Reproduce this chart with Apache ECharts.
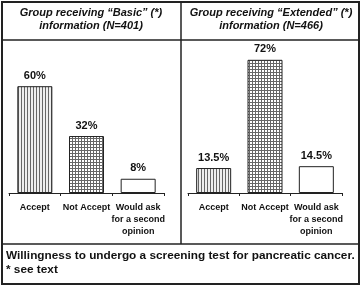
<!DOCTYPE html>
<html>
<head>
<meta charset="utf-8">
<script src="https://cdn.jsdelivr.net/npm/echarts@6/dist/echarts.min.js"></script>
<style>
  html, body { margin: 0; padding: 0; background: #fff; }
  #main { width: 364px; height: 289px; }
</style>
</head>
<body>
<div id="main"></div>
<script>
// data
const categories = ['Accept', 'Not Accept', 'Would ask\nfor a second\nopinion']
const basicValues = [60, 32, 8]
const extendedValues = [13.5, 72, 14.5]
const panelTitles = [
  'Group receiving \u201cBasic\u201d (*)\ninformation (N=401)',
  'Group receiving \u201cExtended\u201d (*)\ninformation (N=466)',
]
const footerText = 'Willingness to undergo a screening test for pancreatic cancer.\n* see text'

// fill patterns for the bars
function makePattern(kind) {
  const c = document.createElement('canvas')
  c.width = 3
  c.height = 3
  const ctx = c.getContext('2d')
  ctx.fillStyle = kind == 'stripe' ? '#eeeeee' : '#fff'
  ctx.fillRect(0, 0, 3, 3)
  ctx.fillStyle = '#666'
  if (kind == 'stripe') {
    ctx.fillRect(0, 0, 1, 3)
  } else if (kind == 'grid') {
    ctx.fillRect(0, 0, 1, 3)
    ctx.fillRect(0, 0, 3, 1)
  }
  return { image: c, repeat: 'repeat' }
}
const fills = [makePattern('stripe'), makePattern('grid'), '#fff']

const labelFont = '"Liberation Sans", Arial, sans-serif'

function barData(values) {
  return values.map((v, i) => {
    return { value: v, itemStyle: { color: fills[i] } }
  })
}

function xAxis(gridIndex) {
  return {
    type: 'category',
    gridIndex: gridIndex,
    data: categories,
    axisLine: { lineStyle: { color: '#222', width: 1 } },
    axisTick: { show: true, length: 3, lineStyle: { color: '#222' } },
    axisLabel: {
      interval: 0,
      margin: 9,
      color: '#111',
      fontFamily: labelFont,
      fontWeight: 'bold',
      fontSize: 9,
      lineHeight: 12,
    },
  }
}

function yAxis(gridIndex) {
  return { type: 'value', gridIndex: gridIndex, min: 0, max: 100, show: false }
}

function series(idx, values) {
  return {
    type: 'bar',
    xAxisIndex: idx,
    yAxisIndex: idx,
    barWidth: 35,
    data: barData(values),
    itemStyle: { borderColor: '#222', borderWidth: 1 },
    label: {
      show: true,
      position: 'top',
      distance: 5,
      formatter: '{c}%',
      color: '#111',
      fontFamily: labelFont,
      fontWeight: 'bold',
      fontSize: 11,
    },
  }
}

const myChart = echarts.init(document.getElementById('main'), null, { renderer: 'canvas' })
myChart.setOption({
  animation: false,
  grid: [
    { left: 9, width: 155, top: 15, bottom: 96 },
    { left: 188, width: 154, top: 8, bottom: 96 },
  ],
  xAxis: [xAxis(0), xAxis(1)],
  yAxis: [yAxis(0), yAxis(1)],
  series: [series(0, basicValues), series(1, extendedValues)],
  graphic: [
    // frame
    { type: 'rect', shape: { x: 2, y: 2, width: 357, height: 282 }, style: { fill: null, stroke: '#222', lineWidth: 2 } },
    { type: 'line', shape: { x1: 2, y1: 40, x2: 359, y2: 40 }, style: { stroke: '#222', lineWidth: 1.5 } },
    { type: 'line', shape: { x1: 181, y1: 2, x2: 181, y2: 244 }, style: { stroke: '#222', lineWidth: 1.5 } },
    { type: 'line', shape: { x1: 2, y1: 244, x2: 359, y2: 244 }, style: { stroke: '#222', lineWidth: 1.5 } },
    // panel titles
    {
      type: 'text', x: 91, y: 6,
      style: { text: panelTitles[0], align: 'center', fill: '#111', font: 'italic bold 11px "Liberation Sans"', lineHeight: 13 },
    },
    {
      type: 'text', x: 271, y: 6,
      style: { text: panelTitles[1], align: 'center', fill: '#111', font: 'italic bold 11px "Liberation Sans"', lineHeight: 13 },
    },
    // caption
    {
      type: 'text', x: 6, y: 249,
      style: { text: footerText, fill: '#111', font: 'bold 11.8px "Liberation Sans"', lineHeight: 14 },
    },
  ],
})
</script>
</body>
</html>
